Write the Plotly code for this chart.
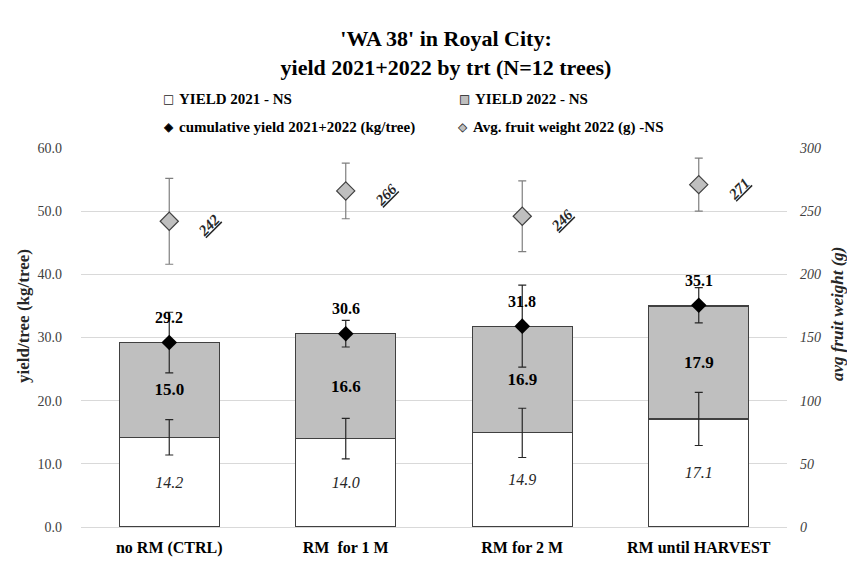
import plotly.graph_objects as go

# Treatments and measured values (N=12 trees)
treatments = ["no RM (CTRL)", "RM  for 1 M", "RM for 2 M", "RM until HARVEST"]
yield_2021 = [14.2, 14.0, 14.9, 17.1]
yield_2021_err = [2.8, 3.2, 3.9, 4.2]
yield_2022 = [15.0, 16.6, 16.9, 17.9]
cumulative = [29.2, 30.6, 31.8, 35.1]
cumulative_err = [4.8, 2.1, 6.5, 2.8]
fruit_weight = [242, 266, 246, 271]
fruit_weight_err = [34, 22, 28, 21]

left_ticks = [0, 10, 20, 30, 40, 50, 60]
right_ticks = [0, 50, 100, 150, 200, 250, 300]

SERIF = "Liberation Serif"
W, H = 847, 569
ML, MR, MT, MB = 81, 60, 148, 33
PW, PH = W - ML - MR, H - MT - MB


def px_x(xpix):
    """Page pixel column -> paper x (plot-area relative)."""
    return (xpix - ML) / PW


def px_y(ypix):
    """Page pixel row -> paper y (plot-area relative)."""
    return (H - MB - ypix) / PH


fig = go.Figure()

fig.add_trace(go.Bar(
    x=treatments, y=yield_2021, name="YIELD 2021 - NS",
    marker=dict(color="#ffffff", line=dict(color="#404040", width=1.2)),
    texttemplate="<i>%{y:.1f}</i>", textposition="inside",
    insidetextanchor="middle", constraintext="none",
    textfont=dict(family=SERIF, size=16, color="#262626"),
    showlegend=False,
))
fig.add_trace(go.Bar(
    x=treatments, y=yield_2022, name="YIELD 2022 - NS",
    marker=dict(color="#bfbfbf", line=dict(color="#404040", width=1.2)),
    texttemplate="<b>%{y:.1f}</b>", textposition="inside",
    insidetextanchor="middle", constraintext="none",
    textfont=dict(family=SERIF, size=17, color="#000000"),
    showlegend=False,
))
# 2021 error bars drawn above both bar segments
fig.add_trace(go.Scatter(
    x=treatments, y=yield_2021, mode="markers",
    marker=dict(size=1, color="rgba(0,0,0,0)"),
    error_y=dict(type="data", array=yield_2021_err, color="#262626",
                 thickness=1.2, width=4),
    showlegend=False, hoverinfo="skip",
))
fig.add_trace(go.Scatter(
    x=treatments, y=cumulative, mode="markers",
    name="cumulative yield 2021+2022 (kg/tree)",
    marker=dict(symbol="diamond", size=12, color="#000000"),
    error_y=dict(type="data", array=cumulative_err, color="#262626",
                 thickness=1.2, width=4),
    showlegend=False,
))
fig.add_trace(go.Scatter(
    x=treatments, y=fruit_weight, mode="markers", yaxis="y2",
    name="Avg. fruit weight 2022 (g) -NS",
    marker=dict(symbol="diamond", size=14, color="#bfbfbf",
                line=dict(color="#404040", width=1.2)),
    error_y=dict(type="data", array=fruit_weight_err, color="#7f7f7f",
                 thickness=1.2, width=4),
    showlegend=False,
))

annotations = []
# cumulative totals above the black diamonds
for t, c in zip(treatments, cumulative):
    annotations.append(dict(
        x=t, y=c, xref="x", yref="y", text=f"<b>{c:.1f}</b>", showarrow=False,
        yshift=25, font=dict(family=SERIF, size=16, color="#000000"),
    ))
# fruit weight labels, slanted and underlined
for t, w in zip(treatments, fruit_weight):
    annotations.append(dict(
        x=t, y=w, xref="x", yref="y2", text=f"<b><i><u>{w}</u></i></b>",
        showarrow=False, xshift=40, yshift=-4, textangle=-45,
        font=dict(family=SERIF, size=15, color="#262626"),
    ))

# axis titles
annotations.append(dict(
    x=px_x(23), y=px_y(320), xref="paper", yref="paper",
    text="<b>yield/tree (kg/tree)</b>", textangle=-90, showarrow=False,
    xanchor="center", yanchor="middle",
    font=dict(family=SERIF, size=17, color="#262626"),
))
annotations.append(dict(
    x=px_x(837), y=px_y(318), xref="paper", yref="paper",
    text="<b><i>avg fruit weight (g)</i></b>", textangle=-90, showarrow=False,
    xanchor="center", yanchor="middle",
    font=dict(family=SERIF, size=17, color="#262626"),
))

# legend rows: swatch glyph + label
legend_rows = [
    (98, [("YIELD 2021 - NS", "#ffffff", "□", 177), ("YIELD 2022 - NS", "#bfbfbf", "□", 473)]),
    (127, [("cumulative yield 2021+2022 (kg/tree)", "#000000", "◇", 177),
           ("Avg. fruit weight 2022 (g) -NS", "#bfbfbf", "◇", 471)]),
]
for ypix, items in legend_rows:
    for label, fill, outline, xpix in items:
        filled = "■" if outline == "□" else "◆"
        for glyph, col in ((filled, fill), (outline, "#262626")):
            annotations.append(dict(
                x=px_x(xpix - 1), y=px_y(ypix), xref="paper", yref="paper",
                text=glyph, showarrow=False, xanchor="right", yanchor="middle",
                font=dict(family="DejaVu Sans", size=12, color=col),
            ))
        annotations.append(dict(
            x=px_x(xpix), y=px_y(ypix), xref="paper", yref="paper",
            text=f"<b>{label}</b>", showarrow=False, xanchor="left", yanchor="middle",
            font=dict(family=SERIF, size=15, color="#000000"),
        ))

fig.update_layout(
    width=W, height=H,
    margin=dict(l=ML, r=MR, t=MT, b=MB),
    paper_bgcolor="#ffffff", plot_bgcolor="#ffffff",
    font=dict(family=SERIF),
    barmode="stack", bargap=0.434,
    title=dict(
        text="<b>'WA 38' in Royal City:<br>yield 2021+2022 by trt (N=12 trees)</b>",
        x=446 / W, xanchor="center", y=1 - 46 / H, yanchor="top",
        font=dict(family=SERIF, size=22, color="#000000"),
    ),
    xaxis=dict(
        showgrid=False, showline=False, zeroline=False, ticks="",
        tickvals=treatments, ticktext=[f"<b>{t}</b>" for t in treatments],
        tickfont=dict(family=SERIF, size=16, color="#000000"),
        ticklabelstandoff=9,
    ),
    yaxis=dict(
        range=[0, 60], tickvals=left_ticks,
        ticktext=[f"{v:.1f}" for v in left_ticks],
        showgrid=True, gridcolor="#d9d9d9", gridwidth=1,
        zeroline=True, zerolinecolor="#d9d9d9", zerolinewidth=1,
        showline=False, ticks="",
        tickfont=dict(family=SERIF, size=14, color="#404040"),
        ticklabelstandoff=18,
    ),
    yaxis2=dict(
        range=[0, 300], tickvals=right_ticks, overlaying="y", side="right",
        ticktext=[f"<i>{v}</i>" for v in right_ticks],
        showgrid=False, zeroline=False, showline=False, ticks="",
        tickfont=dict(family=SERIF, size=14, color="#404040"),
        ticklabelstandoff=12,
    ),
    annotations=annotations,
)

fig.write_html("out.html")
